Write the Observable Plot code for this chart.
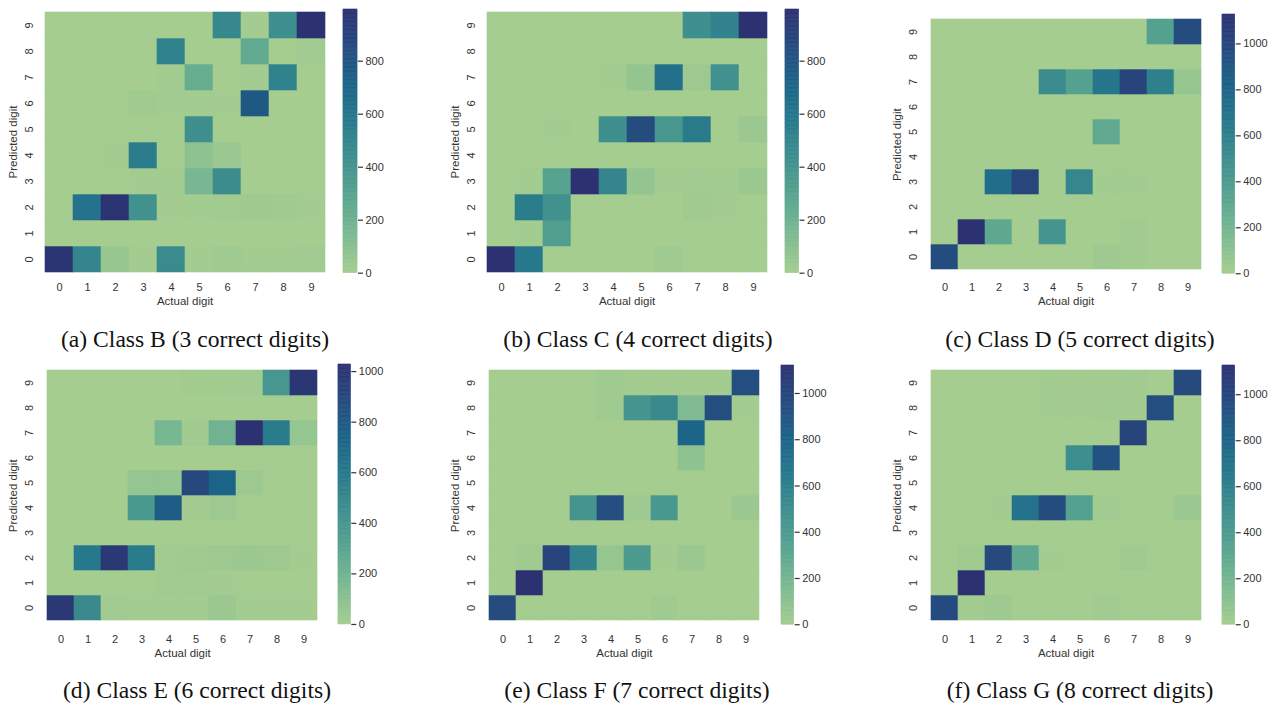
<!DOCTYPE html>
<html><head><meta charset="utf-8">
<script src="https://cdn.jsdelivr.net/npm/d3@7"></script>
<script src="https://cdn.jsdelivr.net/npm/@observablehq/plot@0.6"></script>
<style>
body{margin:0;background:#fff;}
#root{position:relative;width:1278px;height:709px;overflow:hidden;}
.cap{position:absolute;font-family:"Liberation Serif","Times New Roman",serif;font-size:23.6px;color:#111;white-space:nowrap;transform:translate(-50%,-50%);line-height:1;}
.abs{position:absolute;}
</style></head><body><div id="root"></div>
<script>
// ---------- data ----------
const digits = [0,1,2,3,4,5,6,7,8,9];
const xLabel = "Actual digit";
const yLabel = "Predicted digit";
const captions = [
  "(a) Class B (3 correct digits)",
  "(b) Class C (4 correct digits)",
  "(c) Class D (5 correct digits)",
  "(d) Class E (6 correct digits)",
  "(e) Class F (7 correct digits)",
  "(f) Class G (8 correct digits)"
];
const colorTicks = [0,200,400,600,800,1000];
const crestStops = ["#a5cd90","#7dba91","#59a590","#40908e","#287a8c","#1c6488","#254b7f","#2c3172"];

// rows = predicted digit 0..9, columns = actual digit 0..9
const classB = [
  [975,500,50,5,460,10,20,10,10,15],
  [0,0,0,0,0,0,0,0,0,0],
  [0,620,980,420,5,10,12,25,20,5],
  [0,0,0,5,10,160,450,0,0,0],
  [0,0,5,550,0,80,40,0,0,0],
  [0,0,0,0,0,430,0,0,0,0],
  [0,0,0,20,10,10,5,780,0,0],
  [0,0,0,0,10,230,0,10,520,0],
  [0,0,0,0,520,0,0,250,0,15],
  [0,0,0,0,0,0,480,5,430,995]
];
const classC = [
  [995,580,0,0,0,0,20,0,0,0],
  [0,10,330,0,0,0,0,0,0,0],
  [0,550,420,0,0,0,0,20,5,0],
  [0,10,300,995,500,60,5,15,10,40],
  [0,0,0,0,0,0,0,0,0,0],
  [0,0,10,0,430,850,380,560,0,40],
  [0,0,0,0,0,0,0,0,0,0],
  [0,0,0,0,10,60,630,30,420,0],
  [0,0,0,0,0,0,0,0,0,0],
  [0,0,0,0,0,0,0,430,510,995]
];
const classD = [
  [960,0,0,0,0,0,30,10,0,0],
  [0,1128,300,0,450,0,0,15,0,0],
  [0,0,0,0,0,0,0,0,0,0],
  [0,0,740,1000,0,560,10,10,0,0],
  [0,0,0,0,0,0,0,0,0,0],
  [0,0,0,0,0,0,290,0,0,0],
  [0,0,0,0,0,0,0,0,0,0],
  [0,0,0,0,520,350,680,1010,600,60],
  [0,0,0,0,0,0,0,0,0,0],
  [0,0,0,0,0,0,0,0,350,960]
];
const classE = [
  [980,480,15,10,10,10,40,10,5,5],
  [0,0,0,0,15,15,5,0,0,0],
  [0,600,990,580,15,20,30,40,30,5],
  [0,0,0,0,0,0,0,0,0,0],
  [0,0,0,380,780,5,30,0,0,0],
  [0,0,0,60,60,900,740,30,0,0],
  [0,0,0,0,0,0,0,0,0,0],
  [0,0,0,0,170,20,200,1028,580,60],
  [0,0,0,0,0,0,0,0,0,0],
  [0,0,0,0,0,10,10,15,400,1000]
];
const classF = [
  [960,0,0,0,0,0,20,0,0,0],
  [0,1121,0,0,0,0,0,0,0,0],
  [0,25,1000,580,60,400,5,40,0,0],
  [0,0,0,0,0,0,0,0,0,0],
  [0,0,0,450,950,30,420,0,0,40],
  [0,0,0,0,0,0,0,0,0,0],
  [0,0,0,0,0,0,0,90,0,0],
  [0,0,0,0,0,0,0,800,0,0],
  [0,0,0,0,25,450,530,150,950,10],
  [0,0,0,0,20,5,5,5,10,950]
];
const classG = [
  [970,10,30,0,0,0,15,0,0,0],
  [0,1127,0,0,0,0,0,0,0,0],
  [0,20,980,300,10,0,0,20,0,0],
  [0,0,0,0,0,0,0,0,0,0],
  [0,0,5,700,960,350,15,0,0,40],
  [0,0,0,0,0,0,0,0,0,0],
  [0,0,0,0,0,500,930,0,0,0],
  [0,0,0,0,0,0,0,1010,0,0],
  [0,0,0,0,10,5,15,5,950,0],
  [0,0,0,0,10,5,5,15,0,980]
];
const matrices = [classB, classC, classD, classE, classF, classG];

// ---------- layout (positions only) ----------
const layout = [
  {fx:43,   fy:10,    fw:283,   fh:263,   cbx:343,    cbw:14,   cbh:263.7, capx:195,  capy:340},
  {fx:485,  fy:10,    fw:283,   fh:263,   cbx:785,    cbw:13.5, cbh:263.7, capx:638,  capy:340},
  {fx:927.3,fy:15,    fw:277,   fh:258.3, cbx:1222.3, cbw:12.7, cbh:259.3, capx:1080, capy:340},
  {fx:42.7, fy:365.7, fw:278.3, fh:258.6, cbx:337.7,  cbw:12.3, cbh:260,   capx:197,  capy:691},
  {fx:485,  fy:365.7, fw:277.7, fh:258.6, cbx:781,    cbw:12.7, cbh:259.3, capx:637,  capy:691},
  {fx:927.3,fy:365.7, fw:277,   fh:258.6, cbx:1222.3, cbw:12.7, cbh:259.3, capx:1080, capy:691}
];

const crest = d3.piecewise(d3.interpolateRgb, crestStops);
const root = document.getElementById("root");
const font = "'Liberation Sans', Arial, sans-serif";
const ML = 46, MT = 2, MR = 2, MB = 40;

matrices.forEach((m, k) => {
  const L = layout[k];
  const cells = [];
  m.forEach((row, p) => row.forEach((v, a) => cells.push({actual: a, pred: p, v})));
  const vmax = d3.max(cells, d => d.v);
  const colorOpts = {type: "linear", domain: [0, vmax], interpolate: crest};

  const heat = Plot.plot({
    width: L.fw + ML + MR, height: L.fh + MT + MB,
    marginLeft: ML, marginTop: MT, marginRight: MR, marginBottom: MB,
    style: {background: "transparent", fontFamily: font, overflow: "visible"},
    x: {type: "band", domain: digits, padding: 0, axis: null},
    y: {type: "band", domain: digits.slice().reverse(), padding: 0, axis: null},
    color: colorOpts,
    marks: [
      Plot.cell(cells, {x: "actual", y: "pred", fill: "v", stroke: "v", strokeWidth: 0.6, inset: 0}),
      Plot.text(digits, {x: d => d, text: d => String(d), frameAnchor: "bottom", dy: 14, lineAnchor: "middle", fontSize: 11, fill: "#333"}),
      Plot.text(digits, {y: d => d, text: d => String(d), frameAnchor: "left", dx: -14.5, rotate: -90, lineAnchor: "middle", textAnchor: "middle", fontSize: 11, fill: "#333"}),
      Plot.text([xLabel], {text: d => d, frameAnchor: "bottom", dy: 28, lineAnchor: "middle", fontSize: 11.5, fill: "#333"}),
      Plot.text([yLabel], {text: d => d, frameAnchor: "left", dx: -29.7, rotate: -90, lineAnchor: "middle", textAnchor: "middle", fontSize: 11.5, fill: "#333"})
    ]
  });
  heat.classList.add("abs");
  heat.style.left = (L.fx - ML) + "px";
  heat.style.top = (L.fy - MT) + "px";
  root.appendChild(heat);

  // colorbar: top at vmax, bottom aligned with heatmap bottom
  const bottom = L.fy + L.fh;
  const N = 200;
  const bands = d3.range(N);
  const cbMT = 10, cbMB = 10, cbMR = 45;
  const cb = Plot.plot({
    width: L.cbw + cbMR, height: L.cbh + cbMT + cbMB,
    marginLeft: 0, marginRight: cbMR, marginTop: cbMT, marginBottom: cbMB,
    style: {background: "transparent", fontFamily: font, overflow: "visible"},
    y: {type: "linear", domain: [0, vmax], axis: null},
    color: colorOpts,
    marks: [
      Plot.rect(bands, {y1: i => i * vmax / N, y2: i => (i + 1) * vmax / N, fill: i => (i + 0.5) * vmax / N, stroke: i => (i + 0.5) * vmax / N, strokeWidth: 0.6}),
      Plot.axisY({anchor: "right", ticks: colorTicks.filter(t => t <= vmax), tickSize: 5, tickPadding: 3, tickFormat: d => String(d), fontSize: 11, label: null, color: "#333", strokeWidth: 1.2})
    ]
  });
  cb.classList.add("abs");
  cb.style.left = L.cbx + "px";
  cb.style.top = (bottom - L.cbh - cbMT) + "px";
  root.appendChild(cb);

  const cap = document.createElement("div");
  cap.className = "cap";
  cap.textContent = captions[k];
  cap.style.left = L.capx + "px";
  cap.style.top = L.capy + "px";
  root.appendChild(cap);
});
</script>
</body></html>
